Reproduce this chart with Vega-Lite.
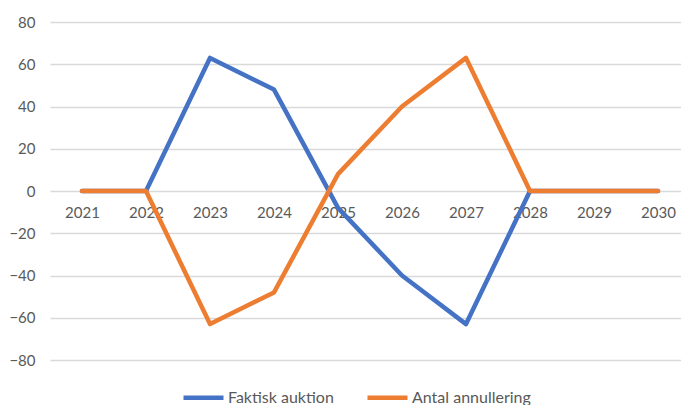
{
  "$schema": "https://vega.github.io/schema/vega-lite/v6.json",
  "autosize": {"type": "none"},
  "padding": {"left": 50, "top": 22, "right": 0, "bottom": 45},
  "width": 631,
  "height": 338,
  "background": "white",
  "config": {
    "view": {"stroke": null},
    "font": "Lato",
    "axis": {"labelFont": "Lato", "labelColor": "#595959", "labelFontSize": 15}
  },
  "data": {
    "values": [
      {"year": 2021, "series": "Faktisk auktion", "value": 0},
      {"year": 2022, "series": "Faktisk auktion", "value": 0},
      {"year": 2023, "series": "Faktisk auktion", "value": 63},
      {"year": 2024, "series": "Faktisk auktion", "value": 48},
      {"year": 2025, "series": "Faktisk auktion", "value": -8},
      {"year": 2026, "series": "Faktisk auktion", "value": -40},
      {"year": 2027, "series": "Faktisk auktion", "value": -63},
      {"year": 2028, "series": "Faktisk auktion", "value": 0},
      {"year": 2029, "series": "Faktisk auktion", "value": 0},
      {"year": 2030, "series": "Faktisk auktion", "value": 0},
      {"year": 2021, "series": "Antal annullering", "value": 0},
      {"year": 2022, "series": "Antal annullering", "value": 0},
      {"year": 2023, "series": "Antal annullering", "value": -63},
      {"year": 2024, "series": "Antal annullering", "value": -48},
      {"year": 2025, "series": "Antal annullering", "value": 8},
      {"year": 2026, "series": "Antal annullering", "value": 40},
      {"year": 2027, "series": "Antal annullering", "value": 63},
      {"year": 2028, "series": "Antal annullering", "value": 0},
      {"year": 2029, "series": "Antal annullering", "value": 0},
      {"year": 2030, "series": "Antal annullering", "value": 0}
    ]
  },
  "mark": {"type": "line", "strokeWidth": 4.5, "strokeJoin": "round", "strokeCap": "round"},
  "encoding": {
    "x": {
      "field": "year",
      "type": "quantitative",
      "scale": {"domain": [2020.5, 2030.359375], "nice": false, "zero": false},
      "axis": {
        "title": null,
        "values": [2021, 2022, 2023, 2024, 2025, 2026, 2027, 2028, 2029, 2030],
        "format": "d",
        "labelAngle": 0,
        "labelFlush": false,
        "labelOverlap": false,
        "domain": false,
        "ticks": false,
        "grid": false,
        "offset": -169,
        "labelPadding": 14
      }
    },
    "y": {
      "field": "value",
      "type": "quantitative",
      "scale": {"domain": [-80, 80], "nice": false, "zero": false},
      "axis": {
        "title": null,
        "values": [-80, -60, -40, -20, 0, 20, 40, 60, 80],
        "domain": false,
        "ticks": false,
        "gridColor": "#d9d9d9",
        "gridWidth": 1.5,
        "labelPadding": 15
      }
    },
    "color": {
      "field": "series",
      "type": "nominal",
      "sort": ["Faktisk auktion", "Antal annullering"],
      "scale": {"domain": ["Faktisk auktion", "Antal annullering"], "range": ["#4472C4", "#ED7D31"]},
      "legend": {
        "title": null,
        "orient": "none",
        "direction": "horizontal",
        "legendX": 131,
        "legendY": 353,
        "symbolType": "stroke",
        "symbolSize": 1600,
        "symbolStrokeWidth": 4.5,
        "labelFont": "Lato",
        "labelFontSize": 16,
        "labelColor": "#595959",
        "labelOffset": 2,
        "columnPadding": 24
      }
    }
  }
}
